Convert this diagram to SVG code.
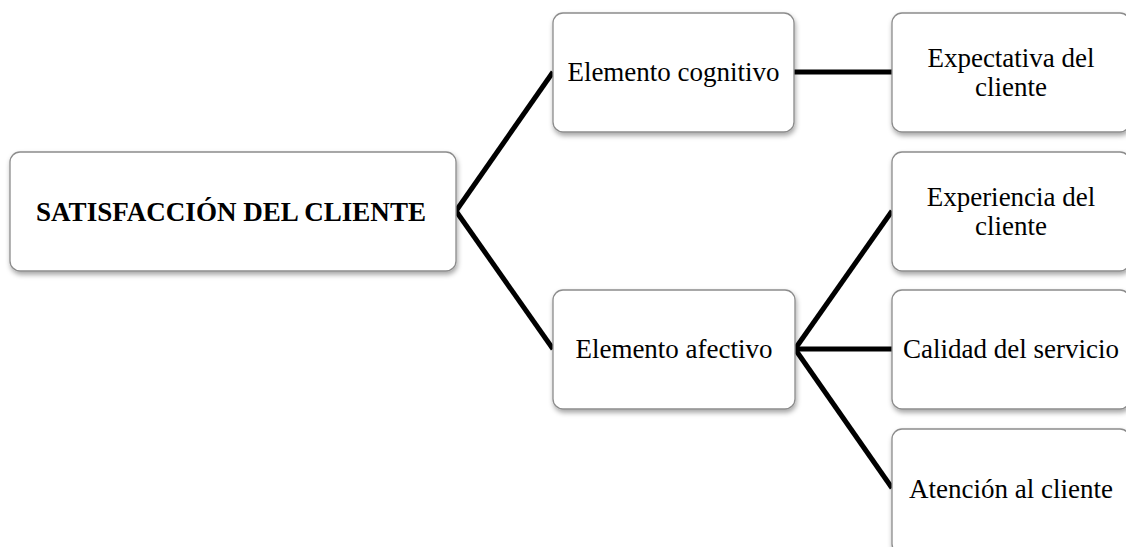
<svg xmlns="http://www.w3.org/2000/svg" width="1126" height="547" viewBox="0 0 1126 547">
<defs>
<filter id="sh" x="-10%" y="-10%" width="125%" height="130%">
<feDropShadow dx="1" dy="3" stdDeviation="2.5" flood-color="#000" flood-opacity="0.35"/>
</filter>
</defs>
<style>
.box{fill:#fff;stroke:#8c8c8c;stroke-width:1.3;filter:url(#sh)}
.t{font-family:"Liberation Serif","Times New Roman",serif;font-size:27px;fill:#000;text-anchor:middle;dominant-baseline:central}
.b{font-weight:bold}
.c{stroke:#000;stroke-width:5;fill:none;stroke-linecap:butt}
</style>
<rect width="1126" height="547" fill="#fff"/>
<g id="connectors">
<line class="c" x1="456" y1="211" x2="553" y2="72"/>
<line class="c" x1="456" y1="211" x2="553" y2="349"/>
<line class="c" x1="794" y1="72" x2="892" y2="72"/>
<line class="c" x1="795" y1="349" x2="892" y2="211"/>
<line class="c" x1="795" y1="349" x2="892" y2="349"/>
<line class="c" x1="795" y1="349" x2="892" y2="488"/>
</g>
<g id="root">
<rect class="box" x="10" y="152" width="446" height="119" rx="10"/>
<text class="t b" x="231" y="212" textLength="390" lengthAdjust="spacingAndGlyphs">SATISFACCIÓN DEL CLIENTE</text>
</g>
<g id="cognitivo">
<rect class="box" x="553" y="13" width="241" height="119" rx="10"/>
<text class="t" x="673.5" y="72">Elemento cognitivo</text>
</g>
<g id="afectivo">
<rect class="box" x="553" y="290" width="242" height="119" rx="10"/>
<text class="t" x="674" y="349">Elemento afectivo</text>
</g>
<g id="expectativa">
<rect class="box" x="892" y="13" width="238" height="119" rx="10"/>
<text class="t" x="1011" y="58">Expectativa del</text>
<text class="t" x="1011" y="87">cliente</text>
</g>
<g id="experiencia">
<rect class="box" x="892" y="152" width="238" height="119" rx="10"/>
<text class="t" x="1011" y="197">Experiencia del</text>
<text class="t" x="1011" y="226">cliente</text>
</g>
<g id="calidad">
<rect class="box" x="892" y="290" width="238" height="119" rx="10"/>
<text class="t" x="1011" y="349">Calidad del servicio</text>
</g>
<g id="atencion">
<rect class="box" x="892" y="429" width="238" height="125" rx="10"/>
<text class="t" x="1011" y="489">Atención al cliente</text>
</g>
</svg>
